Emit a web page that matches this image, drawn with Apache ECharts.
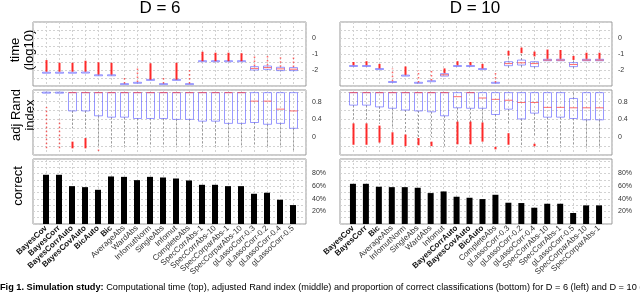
<!DOCTYPE html>
<html><head><meta charset="utf-8">
<script src="https://cdn.jsdelivr.net/npm/echarts@6/dist/echarts.min.js"></script>
<style>html,body{margin:0;padding:0;background:#fff}#c{width:640px;height:293px}</style>
</head><body><div id="c"></div>
<script>
// ---------- categories ----------
const catsD6 = ['BayesCov','BayesCorr','BayesCorrAuto','BayesCovAuto','BicAuto','Bic','AverageAbs','WardAbs','InfomutNorm','SingleAbs','Infomut','CompleteAbs','SpecCorrAbs-1','SpecCorrAbs-10','SpecCorparAbs-1','SpecCorparAbs-10','gLassoCorr-0.3','gLassoCorr-0.2','gLassoCorr-0.4','gLassoCorr-0.5'];
const catsD10 = ['BayesCov','BayesCorr','Bic','AverageAbs','InfomutNorm','SingleAbs','WardAbs','Infomut','BayesCorrAuto','BayesCovAuto','BicAuto','CompleteAbs','gLassoCorr-0.3','gLassoCorr-0.2','gLassoCorr-0.4','SpecCorrAbs-10','SpecCorrAbs-1','gLassoCorr-0.5','SpecCorparAbs-10','SpecCorparAbs-1'];

// ---------- time (log10): [whiskerLo, q1, median, q3, whiskerHi] ----------
const timeBoxD6 = [[-2.17,-2.17,-2.17,-2.17,-2.17],[-2.17,-2.17,-2.17,-2.17,-2.17],[-2.17,-2.17,-2.17,-2.17,-2.17],[-2.16,-2.16,-2.16,-2.16,-2.16],[-2.33,-2.33,-2.33,-2.33,-2.33],[-2.33,-2.33,-2.33,-2.33,-2.33],[-2.88,-2.88,-2.88,-2.88,-2.88],[-2.8,-2.8,-2.8,-2.8,-2.8],[-2.62,-2.62,-2.62,-2.62,-2.62],[-2.88,-2.88,-2.88,-2.88,-2.88],[-2.62,-2.62,-2.62,-2.62,-2.62],[-2.88,-2.88,-2.88,-2.88,-2.88],[-1.5,-1.5,-1.48,-1.45,-1.45],[-1.5,-1.5,-1.48,-1.45,-1.45],[-1.5,-1.5,-1.48,-1.45,-1.45],[-1.5,-1.5,-1.48,-1.45,-1.45],[-2.05,-2.0,-1.9,-1.79,-1.79],[-2.0,-1.96,-1.85,-1.75,-1.75],[-2.08,-2.04,-1.93,-1.83,-1.83],[-2.08,-2.04,-1.95,-1.85,-1.85]];
// outlier spread: [lo, hi, sparse(1)/dense(0)]
const timeOutD6 = [[-2.1,-1.38,0],[-2.1,-1.55,0],[-2.1,-1.55,0],[-2.1,-1.42,0],[-2.28,-1.52,0],[-2.28,-1.55,0],[-2.85,-2.35,1],[-2.75,-1.8,1],[-2.6,-1.58,0],[-2.85,-2.35,1],[-2.6,-1.55,0],[-2.85,-2.0,1],[-1.45,-0.86,0],[-1.45,-0.92,0],[-1.45,-0.92,0],[-1.45,-0.95,0],[-1.75,-1.05,1],[-1.72,-1.05,1],[-1.8,-1.05,1],[-1.82,-1.05,1]];
const timeBoxD10 = [[-1.75,-1.75,-1.75,-1.75,-1.75],[-1.75,-1.75,-1.75,-1.75,-1.75],[-1.94,-1.94,-1.94,-1.94,-1.94],[-2.75,-2.75,-2.75,-2.75,-2.75],[-2.35,-2.35,-2.35,-2.35,-2.35],[-2.8,-2.8,-2.8,-2.8,-2.8],[-2.7,-2.7,-2.7,-2.7,-2.7],[-2.4,-2.38,-2.3,-2.23,-2.23],[-1.75,-1.75,-1.75,-1.75,-1.75],[-1.75,-1.75,-1.75,-1.75,-1.75],[-1.94,-1.94,-1.94,-1.94,-1.94],[-2.8,-2.8,-2.8,-2.8,-2.8],[-1.9,-1.73,-1.6,-1.48,-1.17],[-1.94,-1.69,-1.55,-1.38,-1.0],[-1.94,-1.79,-1.6,-1.48,-1.2],[-1.42,-1.42,-1.38,-1.33,-1.33],[-1.42,-1.42,-1.38,-1.33,-1.33],[-1.94,-1.79,-1.66,-1.54,-1.4],[-1.42,-1.42,-1.38,-1.33,-1.33],[-1.42,-1.42,-1.38,-1.33,-1.33]];
const timeOutD10 = [[-1.7,-1.5,0],[-1.7,-1.45,0],[-1.9,-1.62,0],[-2.7,-1.9,1],[-2.3,-1.78,0],[-2.78,-2.0,1],[-2.65,-1.9,1],[-2.2,-1.9,0],[-1.7,-1.45,0],[-1.7,-1.5,0],[-1.9,-1.62,0],[-2.78,-2.05,1],[-1.1,-0.8,0],[-0.95,-0.6,0],[-1.15,-0.85,0],[-1.3,-0.72,0],[-1.3,-0.75,0],[-1.37,-1.12,0],[-1.3,-0.92,0],[-1.3,-0.92,0]];

// ---------- adjusted Rand index: [whiskerLo, q1, median, q3, whiskerHi] ----------
const randBoxD6 = [[1,1,1,1,1],[1,1,1,1,1],[0.2,0.59,1,1,1],[0.2,0.59,1,1,1],[-0.2,0.48,1,1,1],[-0.2,0.45,1,1,1],[-0.2,0.45,1,1,1],[-0.2,0.42,1,1,1],[-0.2,0.42,1,1,1],[-0.2,0.42,1,1,1],[-0.2,0.40,1,1,1],[-0.2,0.40,1,1,1],[-0.2,0.36,1,1,1],[-0.2,0.36,1,1,1],[-0.2,0.31,1,1,1],[-0.2,0.31,1,1,1],[-0.2,0.33,0.81,1,1],[-0.2,0.29,0.81,1,1],[-0.2,0.31,0.63,1,1],[-0.3,0.20,0.59,1,1]];
const randOutD6 = [[-0.25,0.68,1],[-0.25,0.39,1],[-0.25,-0.1,0],[-0.25,-0.02,0],[-0.31,-0.24,1],null,null,null,null,null,null,null,null,null,null,null,null,null,null,null];
const randBoxD10 = [[0.4,0.72,1,1,1],[0.4,0.72,1,1,1],[0.3,0.68,1,1,1],[0.2,0.65,1,1,1],[0.1,0.61,1,1,1],[0.0,0.59,1,1,1],[0.0,0.57,1,1,1],[-0.2,0.48,1,1,1],[0.3,0.66,0.91,1,1],[0.3,0.65,1,1,1],[0.3,0.65,0.88,1,1],[-0.1,0.51,0.85,1,1],[0.3,0.63,0.83,1,1],[-0.2,0.41,0.78,1,1],[0.0,0.54,0.78,1,1],[-0.2,0.45,0.67,1,1],[-0.2,0.45,0.67,1,1],[-0.2,0.42,0.66,0.87,1],[-0.25,0.39,0.66,1,1],[-0.25,0.39,0.66,1,1]];
const randOutD10 = [[-0.17,0.31,0],[-0.17,0.31,0],[-0.12,0.26,0],[-0.17,0.11,0],[-0.2,0.06,0],[-0.18,-0.02,0],[-0.2,-0.1,0],null,[-0.16,0.35,0],[-0.16,0.35,0],[-0.1,0.33,0],[-0.25,-0.24,0],[-0.17,0.09,0],null,[-0.18,-0.17,0],null,null,null,null,null];

// ---------- proportion correct (%) ----------
const correctD6 = [78,78,60,58.4,54.2,75.3,74.7,69.5,74.7,73.7,72.1,69,62.1,62.1,60,60,47.9,49.5,38.4,30];
const correctD10 = [63.7,63.7,59,58.4,58.4,57.4,49,51.6,43.2,41.6,39.5,46.3,33.7,33.2,25.8,32.1,32.1,17.4,29.5,29.5];

// ---------- tick labels ----------
const timeTicks = [0,-1,-2];
const randTicks = [0.8,0.4,0];
const corrTicks = [20,40,60,80];

const FONT = 'Liberation Sans, Arial, sans-serif';
const BLUE = 'rgba(90,90,255,0.62)';
const RED = 'rgba(255,20,20,0.9)';
const GRIDC = '#d2d2d2';

const grids = [
  {left:33, width:273, top:22, height:64},
  {left:33, width:273, top:90, height:65},
  {left:33, width:273, top:159, height:65},
  {left:340, width:272, top:22, height:64},
  {left:340, width:272, top:90, height:65},
  {left:340, width:272, top:159, height:65}
].map(g => Object.assign({show:true, borderColor:'#999', borderWidth:1, backgroundColor:'transparent'}, g));

function xAx(gi, cats) {
  const ax = {type:'value', gridIndex:gi, min:0, max:21, interval:1,
    axisLine:{show:false, onZero:false}, axisTick:{show:false},
    splitLine:{show:true, lineStyle:{color:GRIDC, type:[2,2], width:1}},
    axisLabel:{show:false}};
  if (cats) {
    ax.axisLabel = {show:true, rotate:43, margin:3, fontSize:8, fontFamily:FONT,
      formatter: v => { const n = cats[Math.round(v)-1]; if (!n || v<1 || v>20) return '';
        return /^(Bayes|Bic)/.test(n) ? '{b|'+n+'}' : '{n|'+n+'}'; },
      rich:{ b:{fontWeight:'bold', fontSize:8, fontFamily:FONT, color:'#111'},
             n:{fontSize:8, fontFamily:FONT, color:'#333'} } };
  }
  return ax;
}
function yAx(gi, min, max, interval, ticks, suffix) {
  return {type:'value', gridIndex:gi, position:'right', min, max, interval,
    axisLine:{show:false, onZero:false}, axisTick:{show:false},
    splitLine:{show:true, lineStyle:{color:GRIDC, type:[2,2], width:1}},
    axisLabel:{fontSize:7, color:'#333', fontFamily:FONT, margin:6,
      formatter: v => { const r = Math.round(v*10)/10; return ticks.some(t => Math.abs(t-r)<1e-6) ? (r + (suffix||'')) : ''; }}};
}

function boxRender(params, api) {
  const x = api.value(0);
  const lo = api.coord([x, api.value(1)]), q1 = api.coord([x, api.value(2)]),
        md = api.coord([x, api.value(3)]), q3 = api.coord([x, api.value(4)]),
        hi = api.coord([x, api.value(5)]);
  const cx = Math.round(lo[0]) + 0.5, hw = 4;
  const kids = [];
  if (lo[1] - q1[1] > 0.5) kids.push({type:'line', shape:{x1:cx,y1:q1[1],x2:cx,y2:lo[1]}, style:{stroke:'#999', lineDash:[2,2], lineWidth:1}});
  if (q3[1] - hi[1] > 0.5) kids.push({type:'line', shape:{x1:cx,y1:hi[1],x2:cx,y2:q3[1]}, style:{stroke:'#999', lineDash:[2,2], lineWidth:1}});
  const h = q1[1] - q3[1];
  if (h > 1) {
    kids.push({type:'rect', shape:{x:cx-hw, y:q3[1], width:2*hw, height:h}, style:{fill:'none', stroke:BLUE, lineWidth:1}});
    kids.push({type:'line', shape:{x1:cx-hw,y1:md[1],x2:cx+hw,y2:md[1]}, style:{stroke:'rgba(255,60,60,0.75)', lineWidth:1}});
  } else {
    kids.push({type:'rect', shape:{x:cx-hw, y:q3[1]-0.5, width:2*hw, height:Math.max(h,1)}, style:{fill:'none', stroke:BLUE, lineWidth:1}});
  }
  return {type:'group', children:kids};
}
function outRender(params, api) {
  const x = api.value(0);
  const a = api.coord([x, api.value(1)]), b = api.coord([x, api.value(2)]);
  const sparse = api.value(3) === 1;
  const cx = Math.round(a[0]) + 0.5;
  let y1 = a[1], y2 = b[1];
  if (y1 - y2 < 2) { y1 += 1; y2 -= 1; }
  return {type:'line', shape:{x1:cx, y1:y1, x2:cx, y2:y2},
    style:{stroke: sparse ? 'rgba(255,40,40,0.7)' : RED, lineWidth: sparse ? 1.5 : 2, lineDash: sparse ? [1.5,2.5] : null}};
}
const boxData = arr => arr.map((b,i) => [i+1].concat(b));
const outData = arr => arr.map((o,i) => o ? [i+1, o[0], o[1], o[2]] : null).filter(Boolean);

function boxSeries(gi, arr) {
  return {type:'custom', xAxisIndex:gi, yAxisIndex:gi, renderItem:boxRender, data:boxData(arr),
    encode:{x:0, y:[1,2,3,4,5]}, silent:true, z:3};
}
function outSeries(gi, arr) {
  return {type:'custom', xAxisIndex:gi, yAxisIndex:gi, renderItem:outRender, data:outData(arr),
    encode:{x:0, y:[1,2]}, silent:true, z:4};
}
function barSeries(gi, arr) {
  return {type:'bar', xAxisIndex:gi, yAxisIndex:gi, data:arr.map((v,i)=>[i+1, v]),
    barWidth:6, itemStyle:{color:'#000'}, silent:true};
}

const chart = echarts.init(document.getElementById('c'), null, {renderer:'canvas'});
chart.setOption({
  animation:false,
  backgroundColor:'#fff',
  grid: grids,
  xAxis: [xAx(0), xAx(1), xAx(2, catsD6), xAx(3), xAx(4), xAx(5, catsD10)],
  yAxis: [
    yAx(0, -3, 1, 0.5, timeTicks), yAx(1, -0.4, 1.06, 0.2, randTicks), yAx(2, 0, 103, 10, corrTicks, '%'),
    yAx(3, -3, 1, 0.5, timeTicks), yAx(4, -0.4, 1.06, 0.2, randTicks), yAx(5, 0, 103, 10, corrTicks, '%')
  ],
  series: [
    boxSeries(0, timeBoxD6), outSeries(0, timeOutD6),
    boxSeries(1, randBoxD6), outSeries(1, randOutD6),
    barSeries(2, correctD6),
    boxSeries(3, timeBoxD10), outSeries(3, timeOutD10),
    boxSeries(4, randBoxD10), outSeries(4, randOutD10),
    barSeries(5, correctD10)
  ],
  graphic: [
    {type:'text', x:160, y:8, style:{text:'D = 6', align:'center', verticalAlign:'middle', textAlign:'center', textVerticalAlign:'middle', fontSize:17, fontFamily:FONT, fill:'#000'}},
    {type:'text', x:475, y:8, style:{text:'D = 10', align:'center', verticalAlign:'middle', textAlign:'center', textVerticalAlign:'middle', fontSize:17, fontFamily:FONT, fill:'#000'}},
    {type:'text', x:22, y:50, rotation:Math.PI/2, style:{text:'time\n(log10)', align:'center', verticalAlign:'middle', textAlign:'center', textVerticalAlign:'middle', fontSize:13, lineHeight:14, fontFamily:FONT, fill:'#000'}},
    {type:'text', x:23, y:115, rotation:Math.PI/2, style:{text:'adj Rand\nindex', align:'center', verticalAlign:'middle', textAlign:'center', textVerticalAlign:'middle', fontSize:13, lineHeight:14, fontFamily:FONT, fill:'#000'}},
    {type:'text', x:18, y:186, rotation:Math.PI/2, style:{text:'correct', align:'center', verticalAlign:'middle', textAlign:'center', textVerticalAlign:'middle', fontSize:13, fontFamily:FONT, fill:'#000'}},
    {type:'text', x:0, y:287, style:{text:'{b|Fig 1. Simulation study:} Computational time (top), adjusted Rand index (middle) and proportion of correct classifications (bottom) for D = 6 (left) and D = 10 (right).',
      verticalAlign:'middle', textVerticalAlign:'middle', fontSize:9.2, fontFamily:FONT, fill:'#000',
      rich:{b:{fontWeight:'bold', fontSize:9.2, fontFamily:FONT, fill:'#000'}}}}
  ]
});
</script></body></html>
